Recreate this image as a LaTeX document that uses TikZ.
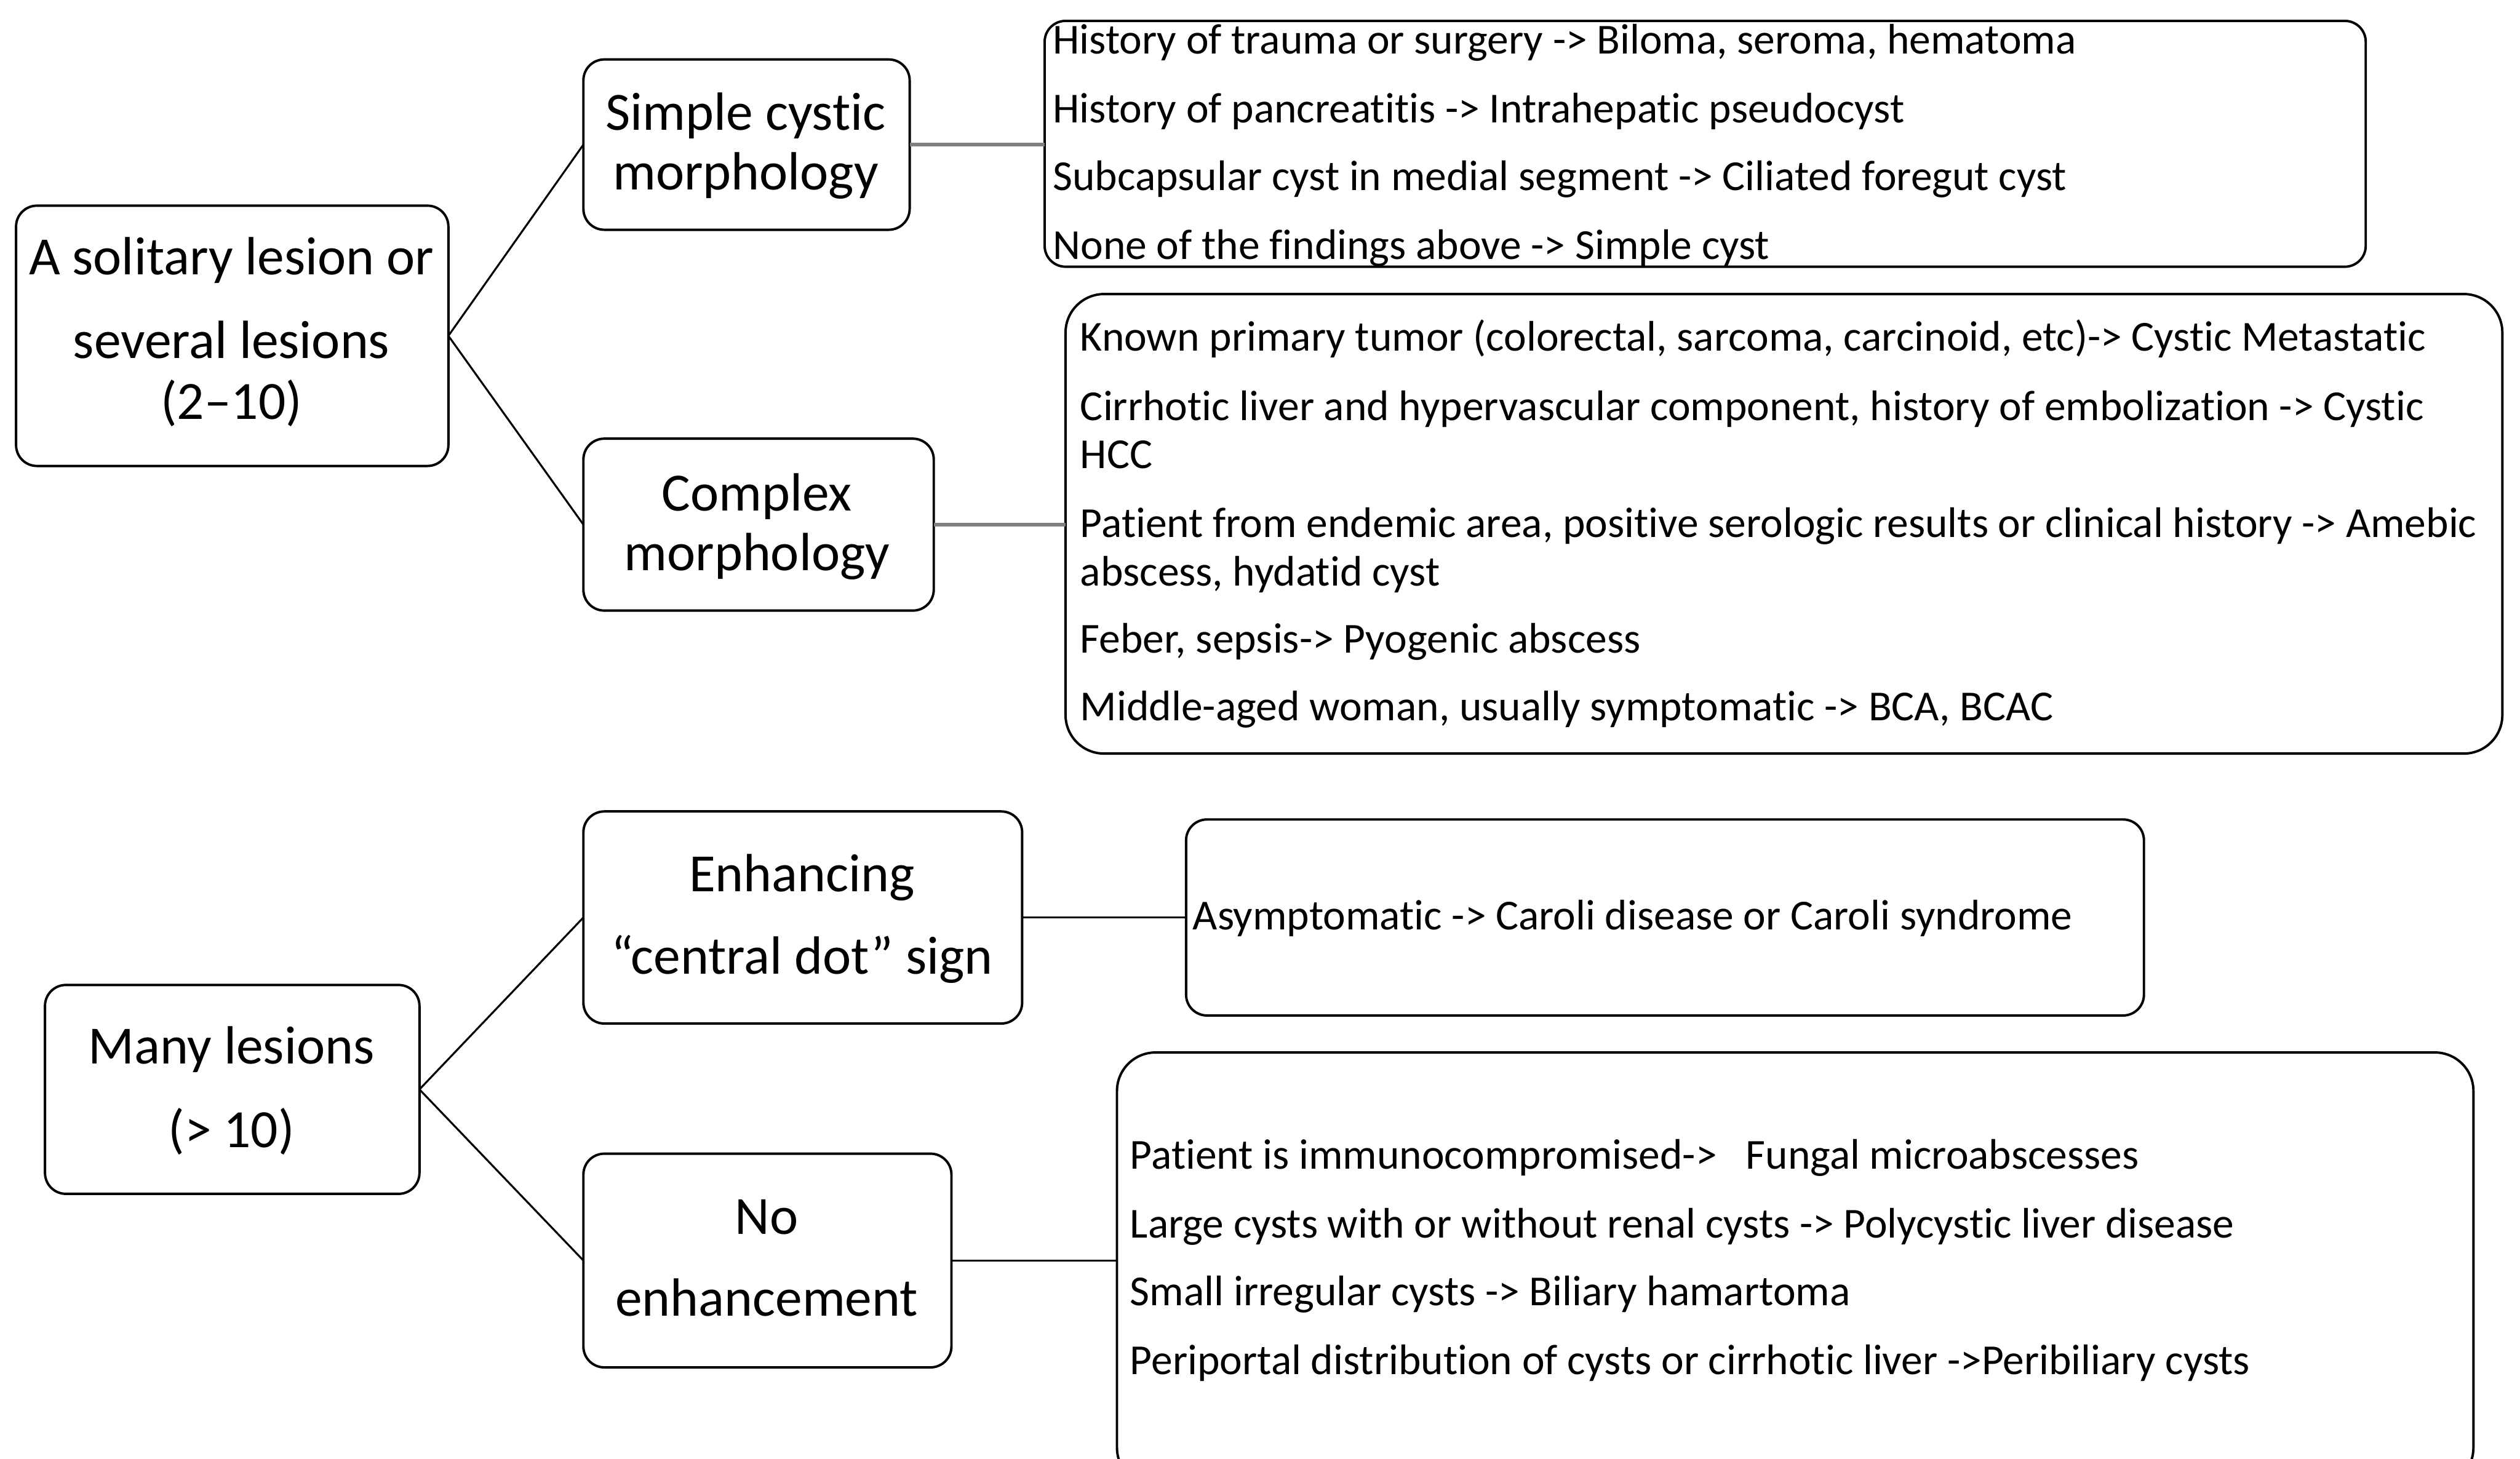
\documentclass[tikz,border=0pt]{standalone}
\usepackage{fontspec}
\setmainfont[Ligatures=NoCommon]{Carlito}
\tikzset{
  box/.style={draw, line width=1.5pt, rounded corners=13pt, inner sep=0pt, outer sep=0pt},
  bigbox/.style={box, rounded corners=24pt},
  big/.style={font=\fontsize{33.5}{38}\selectfont, anchor=base, inner sep=0pt, yshift=-2pt},
  small/.style={font=\fontsize{26.6}{30}\selectfont, anchor=base west, inner sep=0pt, yshift=-1pt},
  link/.style={line width=1.2pt},
  glink/.style={line width=2.2pt, draw=black!50},
}
\begin{document}
\begin{tikzpicture}[x=1pt,y=-1pt]
\useasboundingbox (0,0) rectangle (1568,908);
\clip (0,0) rectangle (1568,908);
% boxes
\node[box, minimum width=269pt, minimum height=162pt] (A) at (144.5,209) {};
\node[box, minimum width=203pt, minimum height=106pt] (S) at (464.5,90) {};
\node[box, minimum width=218pt, minimum height=107pt] (C) at (472,326.5) {};
\node[box, minimum width=822pt, minimum height=153pt] (R1) at (1061,89.5) {};
\node[bigbox, minimum width=894pt, minimum height=286pt] (R2) at (1110,326) {};
\node[box, minimum width=233pt, minimum height=130pt] (M) at (144.5,678) {};
\node[box, minimum width=273pt, minimum height=132pt] (E) at (499.5,571) {};
\node[box, minimum width=229pt, minimum height=133pt] (N) at (477.5,784.5) {};
\node[box, minimum width=596pt, minimum height=122pt] (R3) at (1036,571) {};
\node[bigbox, minimum width=844pt, minimum height=270pt] (R4) at (1117,790) {};
% connectors
\draw[link] (A.east) -- (S.west);
\draw[link] (A.east) -- (C.west);
\draw[glink] (S.east) -- (S.east -| R1.west);
\draw[glink] (C.east) -- (C.east -| R2.west);
\draw[link] (M.east) -- (E.west);
\draw[link] (M.east) -- (N.west);
\draw[link] (E.east) -- (E.east -| R3.west);
\draw[link] (N.east) -- (N.east -| R4.west);
% left texts
\node[big] (a1) at (144,169) {A solitary lesion or};
\node[big] (a2) at (144,221) {several lesions};
\node[big] (a3) at (144,259) {(2–10)};
\node[big] (s1) at (464,79) {Simple cystic};
\node[big] (s2) at (464,116) {morphology};
\node[big] (c1) at (471,316) {Complex};
\node[big] (c2) at (471,353) {morphology};
\node[big] (m1) at (144,660) {Many lesions};
\node[big] (m2) at (144,712) {(> 10)};
\node[big] (e1) at (499,553) {Enhancing};
\node[big] (e2) at (499,604) {“central dot” sign};
\node[big] (n1) at (477,766) {No};
\node[big] (n2) at (477,817) {enhancement};
% right texts
\node[small] (r11) at (655,32.5) {History of trauma or surgery -> Biloma, seroma, hematoma};
\node[small] (r12) at (655,75.5) {History of pancreatitis -> Intrahepatic pseudocyst};
\node[small] (r13) at (655,117.5) {Subcapsular cyst in medial segment -> Ciliated foregut cyst};
\node[small] (r14) at (655,160.5) {None of the findings above -> Simple cyst};
\node[small] (r21) at (672,217.5) {Known primary tumor (colorectal, sarcoma, carcinoid, etc)-> Cystic Metastatic};
\node[small] (r22) at (672,260.5) {Cirrhotic liver and hypervascular component, history of embolization -> Cystic};
\node[small] (r23) at (672,290.5) {HCC};
\node[small] (r24) at (672,333.5) {Patient from endemic area, positive serologic results or clinical history -> Amebic};
\node[small] (r25) at (672,363.5) {abscess, hydatid cyst};
\node[small] (r26) at (672,405.5) {Feber, sepsis-> Pyogenic abscess};
\node[small] (r27) at (672,447.5) {Middle-aged woman, usually symptomatic -> BCA, BCAC};
\node[small] (r31) at (742,577.5) {Asymptomatic -> Caroli disease or Caroli syndrome};
\node[small] (r41) at (703,726.5) {Patient is immunocompromised->\ \ \ Fungal microabscesses};
\node[small] (r42) at (703,769.5) {Large cysts with or without renal cysts -> Polycystic liver disease};
\node[small] (r43) at (703,811.5) {Small irregular cysts -> Biliary hamartoma};
\node[small] (r44) at (703,854.5) {Periportal distribution of cysts or cirrhotic liver ->Peribiliary cysts};
\end{tikzpicture}
\end{document}
